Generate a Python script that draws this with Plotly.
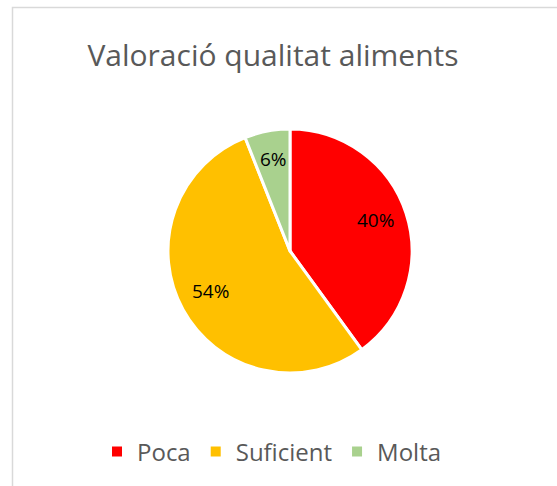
import math
import plotly.graph_objects as go

labels = ["Poca", "Suficient", "Molta"]
values = [40, 54, 6]
colors = ["#FF0000", "#FFC000", "#A9D18E"]
title_text = "Valoració qualitat aliments"

W, H = 557, 486
cx, cy, r = 290, 251, 122

fig = go.Figure(go.Pie(
    labels=labels,
    values=values,
    sort=False,
    direction="clockwise",
    rotation=0,
    marker=dict(colors=colors, line=dict(color="white", width=3)),
    textinfo="none",
    domain=dict(x=[(cx - r) / W, (cx + r) / W], y=[(H - cy - r) / H, (H - cy + r) / H]),
    hoverinfo="label+percent",
))

# data labels placed at the slice mid-angles (computed from the values)
total = sum(values)
cum = 0
annotations = []
for v in values:
    mid = (cum + v / 2) / total * 2 * math.pi
    cum += v
    rr = 0.74 * r
    px = cx + rr * math.sin(mid)
    py = cy - 3 - rr * math.cos(mid)
    annotations.append(dict(
        text=f"{round(100 * v / total)}%", x=px / W, y=1 - py / H,
        xref="paper", yref="paper", showarrow=False,
        xanchor="center", yanchor="middle",
        font=dict(family="Open Sans", size=19, color="black"),
    ))

fig.update_layout(
    width=W, height=H,
    margin=dict(l=0, r=0, t=0, b=0),
    paper_bgcolor="white",
    font=dict(family="Open Sans", color="#595959"),
    title=dict(text=title_text, x=273 / W, xanchor="center", y=1 - 55 / H, yanchor="middle",
               font=dict(size=30, color="#595959", family="Open Sans")),
    legend=dict(orientation="h", x=272 / W, xanchor="center", y=1 - 452 / H, yanchor="middle",
                font=dict(size=24, color="#595959"), itemsizing="constant", traceorder="normal",
                itemwidth=30),
    annotations=annotations,
    shapes=[dict(type="rect", xref="paper", yref="paper",
                 x0=12.5 / W, x1=1.05, y0=-0.05, y1=1 - 7.5 / H,
                 line=dict(color="#D9D9D9", width=1.5), fillcolor="rgba(0,0,0,0)")],
)

fig.write_html("out.html", config={"displayModeBar": False},
               post_script="document.body.style.margin='0px';")
